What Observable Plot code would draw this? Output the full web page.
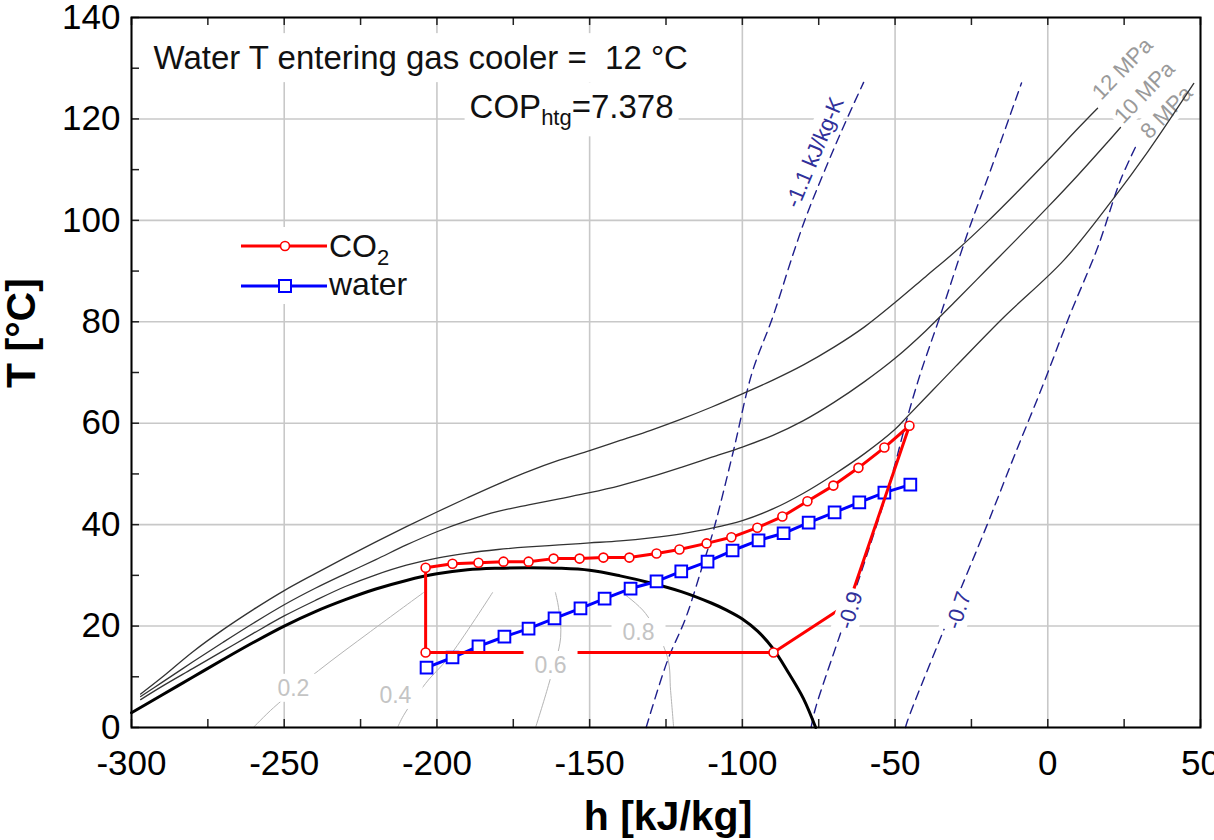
<!DOCTYPE html>
<html><head><meta charset="utf-8">
<script src="https://cdn.jsdelivr.net/npm/d3@7"></script>
<script src="https://cdn.jsdelivr.net/npm/@observablehq/plot@0.6"></script>
<style>
body{margin:0;background:#fff;}
#chart{position:relative;width:1214px;height:840px;}
</style></head><body><div id="chart"></div>
<script>
// ---- axes ----
const hTicks = [-300, -250, -200, -150, -100, -50, 0, 50];
const tTicks = [0, 20, 40, 60, 80, 100, 120, 140];
const hMinor = [-300, -275, -250, -225, -200, -175, -150, -125, -100, -75, -50, -25, 0, 25, 50];
const tMinor = [0, 10, 20, 30, 40, 50, 60, 70, 80, 90, 100, 110, 120, 130, 140];

// ---- saturation dome [h, T] ----
const dome = [[-300,2.9],[-290,6.4],[-280,9.9],[-270,13.4],[-260,16.8],[-250,20.0],[-240,22.8],[-230,25.2],[-220,27.3],[-210,29.0],[-200,30.3],[-190,31.1],[-180,31.4],[-170,31.5],[-160,31.4],[-150,31.0],[-140,29.9],[-130,28.5],[-120,26.8],[-110,24.5],[-105,23.1],[-100,21.4],[-95,19.0],[-90,15.6],[-85,10.9],[-80,5.7],[-76,0]];

// ---- isobars [h, T] ----
const isobar12 = [[-297,6.6],[-290,9.9],[-280,14.9],[-270,19.3],[-260,23.3],[-250,27.0],[-240,30.3],[-230,33.5],[-220,36.6],[-210,39.6],[-200,42.5],[-190,45.3],[-180,48.0],[-170,50.5],[-160,52.7],[-150,54.6],[-140,56.6],[-130,58.6],[-120,60.8],[-110,63.2],[-100,65.8],[-90,68.5],[-80,71.5],[-70,75.0],[-60,79.0],[-50,83.8],[-40,88.9],[-30,94.0],[-20,99.6],[-10,105.6],[0,111.8],[10,118.2],[16.3,122.1]];
const isobar10 = [[-297,6.1],[-290,8.9],[-280,12.9],[-270,16.8],[-260,20.6],[-250,24.2],[-240,27.4],[-230,30.3],[-220,33.1],[-210,36.0],[-200,38.6],[-190,40.8],[-180,42.6],[-170,43.9],[-160,45.1],[-150,46.3],[-140,47.7],[-130,49.4],[-120,51.3],[-110,53.3],[-100,55.3],[-90,57.6],[-80,60.5],[-70,64.1],[-60,68.2],[-50,72.8],[-40,78.2],[-30,84.2],[-20,90.3],[-10,96.4],[0,102.6],[10,109.0],[20,115.7],[23.8,118.3]];
const isobar8 = [[-297,5.5],[-290,8.1],[-280,11.6],[-270,15.1],[-260,18.6],[-250,22.0],[-240,25.0],[-230,27.8],[-220,30.1],[-210,32.0],[-200,33.4],[-190,34.4],[-180,35.1],[-170,35.6],[-160,36.0],[-150,36.4],[-140,36.8],[-130,37.4],[-120,38.2],[-110,39.3],[-100,40.8],[-90,43.1],[-80,46.2],[-70,49.9],[-60,54.0],[-50,58.8],[-46,61.3],[-38,66.3],[-30,71.3],[-14.4,80.9],[5.2,92.1],[21.6,104.4],[32.6,113.4],[47.8,127.0]];

// ---- isentropes ----
const entropy11 = [[-131.5,0],[-124.5,13.2],[-118.6,21.5],[-113.5,31],[-109.5,38.8],[-102.9,54.6],[-96.8,70],[-90,81],[-83.3,93.5],[-78.7,101.4],[-67.9,117.1],[-60.3,127.2]];
const entropy09 = [[-77.5,0],[-76.1,3.7],[-67.9,18.5],[-59.5,33.5],[-51.5,48.7],[-46,61.1],[-41.7,69.8],[-35.1,81.4],[-26.3,97.4],[-18.8,109.8],[-8.6,127.1]];
const entropy07 = [[-46.6,0],[-45.9,1.4],[-35.1,17.7],[-19.7,40.2],[-11.2,53.2],[-1.4,67.8],[7.4,81.6],[16.3,94.6],[23.8,107.9],[29.4,115.3]];

// ---- quality lines ----
const quality02 = [[-260.1,0],[-253.5,3.9],[-238.8,11.2],[-221.8,18.9],[-204.4,26.6]];
const quality04 = [[-212.9,0],[-210.9,2.4],[-203.7,8.7],[-196.2,13.8],[-181.8,26.6]];
const quality06 = [[-167.7,0],[-163.5,8.3],[-159.5,17.7],[-160.2,23.7],[-161.2,26.6]];
const quality08 = [[-122.5,0],[-123.5,7.3],[-124.5,13.8],[-131.7,22.5],[-138.9,26.4]];

// ---- CO2 cycle ----
const co2GasCooler = [[-45.3,59.5],[-53.5,55.2],[-62.0,51.2],[-70.2,47.7],[-78.7,44.6],[-86.9,41.6],[-95.1,39.4],[-103.6,37.5],[-111.7,36.3],[-120.6,35.1],[-128.1,34.3],[-137.0,33.5],[-145.5,33.5],[-153.3,33.3],[-161.8,33.3],[-170.0,32.7],[-178.2,32.7],[-186.4,32.5],[-194.9,32.3],[-203.7,31.5]];
const co2Evaporator = [[-203.7,14.8],[-89.8,14.8]];
const co2Compression = [[-65.1,24.5],[-45.3,59.5]];

// ---- water ----
const water = [[-203.4,11.8],[-194.9,13.8],[-186.4,16.0],[-177.9,17.9],[-170.0,19.5],[-161.5,21.5],[-153.0,23.5],[-145.1,25.4],[-136.6,27.4],[-128.1,28.8],[-120.0,30.8],[-111.4,32.7],[-103.2,34.9],[-94.7,36.9],[-86.5,38.3],[-78.3,40.4],[-69.8,42.4],[-61.7,44.4],[-53.5,46.3],[-45.0,47.9]];

// ---- labels [text, h, T, rotate] ----
const qualityLabels = [["0.2",-247.0,7.7],["0.4",-213.6,6.3],["0.6",-162.8,12.2],["0.8",-134.0,18.7]];
const entropyLabels = [["-1.1 kJ/kg-K",-76.3,113.4,-67],["-0.9",-64.6,23.1,-73],["-0.7",-29.2,23.1,-72]];
const pressureLabels = [["12 MPa",24.5,129.9],["10 MPa",31.7,125.2],["8 MPa",38.9,121.3]];
const headerLabel = [["Water T entering gas cooler =\u00a0 12 °C",-292.8,131.9]];
const copLabel = [["COPhtg=7.378",-189.3,122.2]];
const legendItems = ["CO2", "water"];

const co2Path = [...co2GasCooler, ...co2Evaporator, ...co2Compression];
const co2Markers = [...co2GasCooler, ...co2Evaporator];

const X = d => d[0], Y = d => d[1];
const qualityStyle = {x: X, y: Y, stroke: "#b4b4b4", strokeWidth: 1, curve: "catmull-rom"};
const isobarStyle = {x: X, y: Y, stroke: "#333", strokeWidth: 1.3, curve: "catmull-rom"};
const entropyStyle = {x: X, y: Y, stroke: "#1e1e8c", strokeWidth: 1.4, strokeDasharray: "9,6", curve: "catmull-rom"};

const plot = Plot.plot({
  width: 1214, height: 840,
  marginLeft: 131, marginRight: 14, marginTop: 17, marginBottom: 113,
  style: {fontFamily: '"Liberation Sans", Arial, sans-serif', fontSize: "35px", color: "#000", background: "#fff", overflow: "visible"},
  x: {domain: [-300, 50]},
  y: {domain: [0, 140]},
  marks: [
    Plot.ruleX(hTicks, {stroke: "#c8c8c8", strokeWidth: 1.6}),
    Plot.ruleY(tTicks, {stroke: "#c8c8c8", strokeWidth: 1.6}),
    Plot.text(pressureLabels, {x: d => d[1], y: d => d[2], text: d => d[0], rotate: -46, fontSize: 22, fill: "#9a9a9a", className: "boxS"}),
    Plot.line(quality02, qualityStyle),
    Plot.line(quality04, qualityStyle),
    Plot.line(quality06, qualityStyle),
    Plot.line(quality08, qualityStyle),
    Plot.line(entropy11, entropyStyle),
    Plot.line(entropy09, entropyStyle),
    Plot.line(entropy07, entropyStyle),
    Plot.line(isobar12, isobarStyle),
    Plot.line(isobar10, isobarStyle),
    Plot.line(isobar8, isobarStyle),
    Plot.line(dome, {x: X, y: Y, stroke: "#000", strokeWidth: 3, curve: "catmull-rom"}),
    Plot.line(water, {x: X, y: Y, stroke: "#0000ff", strokeWidth: 3}),
    Plot.dot(water, {x: X, y: Y, symbol: "square", r: 6.6, fill: "#fff", stroke: "#0000ff", strokeWidth: 2}),
    Plot.line(co2Path, {x: X, y: Y, stroke: "#ff0000", strokeWidth: 3}),
    Plot.dot(co2Markers, {x: X, y: Y, r: 4.5, fill: "#fff", stroke: "#ff0000", strokeWidth: 1.6}),
    Plot.text(qualityLabels, {x: d => d[1], y: d => d[2], text: d => d[0], fontSize: 23, fill: "#c4c4c4", className: "boxL"}),
    Plot.text(entropyLabels, {x: d => d[1], y: d => d[2], text: d => d[0], rotate: d => d[3], fontSize: 22, fill: "#30309a", className: "boxS"}),
    Plot.text(headerLabel, {x: d => d[1], y: d => d[2], text: d => d[0], textAnchor: "start", fontSize: 33, fill: "#111", className: "boxM"}),
    Plot.text(copLabel, {x: d => d[1], y: d => d[2], text: d => d[0], textAnchor: "start", fontSize: 33, fill: "#111", className: "boxM cop"}),
    Plot.tickX(hMinor, {x: d => d, insetTop: 702, stroke: "#222", strokeWidth: 1.5}),
    Plot.tickX(hMinor, {x: d => d, insetBottom: 702, stroke: "#222", strokeWidth: 1.5}),
    Plot.tickY(tMinor, {y: d => d, insetRight: 1061, stroke: "#222", strokeWidth: 1.5}),
    Plot.frame({stroke: "#000", strokeWidth: 2}),
    Plot.axisX({ticks: hTicks, tickSize: 0, tickPadding: 23, label: null, tickFormat: d => String(d)}),
    Plot.axisY({ticks: tTicks, tickSize: 0, tickPadding: 11, label: null, tickFormat: d => String(d)})
  ]
});
document.getElementById("chart").appendChild(plot);
const svg = d3.select(plot.tagName.toLowerCase() === "svg" ? plot : plot.querySelector("svg"));

// COP subscript
svg.selectAll("g.cop text").each(function() {
  const t = d3.select(this);
  t.text(null);
  t.append("tspan").text("COP");
  t.append("tspan").text("htg").attr("font-size", "22px").attr("dy", "7");
  t.append("tspan").text("=7.378").attr("dy", "-7");
});

// white label boxes
const pads = {boxS: [3, 1], boxM: [5, 6], boxL: [11, 1]};
for (const [cls, [px, py]] of Object.entries(pads)) {
  svg.selectAll(`g.${cls} text`).each(function() {
    const bb = this.getBBox();
    const r = document.createElementNS("http://www.w3.org/2000/svg", "rect");
    r.setAttribute("x", bb.x - px);
    r.setAttribute("y", bb.y - py);
    r.setAttribute("width", bb.width + 2 * px);
    r.setAttribute("height", bb.height + 2 * py);
    r.setAttribute("fill", "#fff");
    r.setAttribute("stroke", "none");
    const tr = this.getAttribute("transform");
    if (tr) r.setAttribute("transform", tr);
    this.parentNode.insertBefore(r, this);
  });
}

// axis titles
svg.append("text").attr("x", 668).attr("y", 830).attr("text-anchor", "middle")
  .attr("font-size", "41px").attr("font-weight", "bold").attr("fill", "#000").text("h [kJ/kg]");
svg.append("text").attr("transform", "translate(35,333) rotate(-90)").attr("text-anchor", "middle")
  .attr("font-size", "41px").attr("font-weight", "bold").attr("fill", "#000").text("T [°C]");

// legend
const lg = svg.append("g").attr("font-size", "32px").attr("fill", "#111").attr("text-anchor", "start");
lg.append("rect").attr("x", 236).attr("y", 227).attr("width", 176).attr("height", 77).attr("fill", "#fff");
lg.append("line").attr("x1", 241).attr("x2", 327).attr("y1", 246).attr("y2", 246).attr("stroke", "#ff0000").attr("stroke-width", 3);
lg.append("circle").attr("cx", 285).attr("cy", 246).attr("r", 4.5).attr("fill", "#fff").attr("stroke", "#ff0000").attr("stroke-width", 1.6);
const co2t = lg.append("text").attr("x", 329).attr("y", 257);
co2t.append("tspan").text(legendItems[0].slice(0, 2));
co2t.append("tspan").text(legendItems[0].slice(2)).attr("font-size", "22px").attr("dy", "8");
lg.append("line").attr("x1", 241).attr("x2", 327).attr("y1", 286).attr("y2", 286).attr("stroke", "#0000ff").attr("stroke-width", 3);
lg.append("rect").attr("x", 279).attr("y", 280).attr("width", 12).attr("height", 12).attr("fill", "#fff").attr("stroke", "#0000ff").attr("stroke-width", 2);
lg.append("text").attr("x", 329).attr("y", 295).text(legendItems[1]);
</script></body></html>
